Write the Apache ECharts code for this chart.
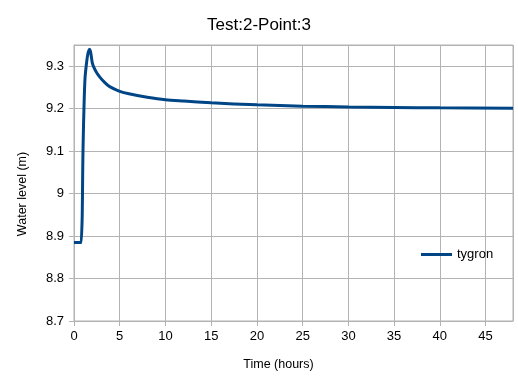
<!DOCTYPE html>
<html>
<head>
<meta charset="utf-8">
<script src="https://cdn.jsdelivr.net/npm/echarts@6/dist/echarts.min.js"></script>
<style>html,body{margin:0;padding:0;background:#fff}#c{width:518px;height:387px}</style>
</head>
<body>
<div id="c"></div>
<script>
var titleText = 'Test:2-Point:3';
var seriesName = 'tygron';
var xName = 'Time (hours)';
var yName = 'Water level (m)';
var timeHours = [0, 0.8, 0.85, 0.9, 0.95, 1.0, 1.1, 1.2, 1.33, 1.5, 1.69, 1.8, 1.9, 2.0, 2.2, 2.5, 2.8, 3.3, 3.9, 5, 6, 8, 10, 12, 15, 20, 25, 30, 35, 40, 48];
var waterLevel = [8.885, 8.885, 8.885, 8.95, 9.05, 9.12, 9.21, 9.27, 9.30, 9.327, 9.34, 9.335, 9.322, 9.308, 9.296, 9.284, 9.275, 9.263, 9.252, 9.241, 9.235, 9.227, 9.221, 9.218, 9.214, 9.209, 9.206, 9.204, 9.203, 9.202, 9.201];
var xMin = 0, xMax = 48, xStep = 5;
var yMin = 8.7, yMax = 9.35, yStep = 0.1;

var pts = timeHours.map(function (t, i) { return [t, waterLevel[i]]; });
var chart = echarts.init(document.getElementById('c'), null, {renderer: 'canvas'});
var fam = '"Liberation Sans", Arial, sans-serif';
chart.setOption({
  animation: false,
  backgroundColor: '#ffffff',
  textStyle: {fontFamily: fam},
  title: {text: titleText, left: 'center', top: 12,
    textStyle: {fontSize: 17, fontWeight: 'normal', color: '#000', fontFamily: fam}},
  grid: {left: 74, top: 45, width: 439, height: 276, show: true, borderColor: '#b3b3b3', borderWidth: 1, containLabel: false},
  legend: {left: 416, top: 243, itemWidth: 31, itemHeight: 3, itemGap: 5,
    data: [{name: seriesName, icon: 'rect'}],
    textStyle: {fontSize: 13, color: '#000', fontFamily: fam}},
  xAxis: {type: 'value', min: xMin, max: xMax, interval: xStep,
    name: xName, nameLocation: 'middle', nameGap: 37,
    nameTextStyle: {fontSize: 12.5, color: '#000', fontFamily: fam, padding: [0, 30, 0, 0]},
    axisLine: {show: true, lineStyle: {color: '#b3b3b3'}},
    axisTick: {show: true, length: 5, lineStyle: {color: '#b3b3b3'}},
    axisLabel: {fontSize: 13, color: '#000', margin: 9, showMaxLabel: false, fontFamily: fam},
    splitLine: {show: true, lineStyle: {color: '#b3b3b3', width: 1}}},
  yAxis: {type: 'value', min: yMin, max: yMax, interval: yStep,
    name: yName, nameLocation: 'middle', nameGap: 45,
    nameTextStyle: {fontSize: 12.5, color: '#000', fontFamily: fam, padding: [0, 22, 0, 0]},
    axisLine: {show: true, lineStyle: {color: '#b3b3b3'}},
    axisTick: {show: true, length: 5, lineStyle: {color: '#b3b3b3'}},
    axisLabel: {fontSize: 13, color: '#000', margin: 10, showMaxLabel: false, fontFamily: fam},
    splitLine: {show: true, lineStyle: {color: '#b3b3b3', width: 1}}},
  series: [{name: seriesName, type: 'line', data: pts, showSymbol: false, symbol: 'none', smooth: 0.3,
    lineStyle: {color: '#004586', width: 3}, itemStyle: {color: '#004586'}}]
});
</script>
</body>
</html>
